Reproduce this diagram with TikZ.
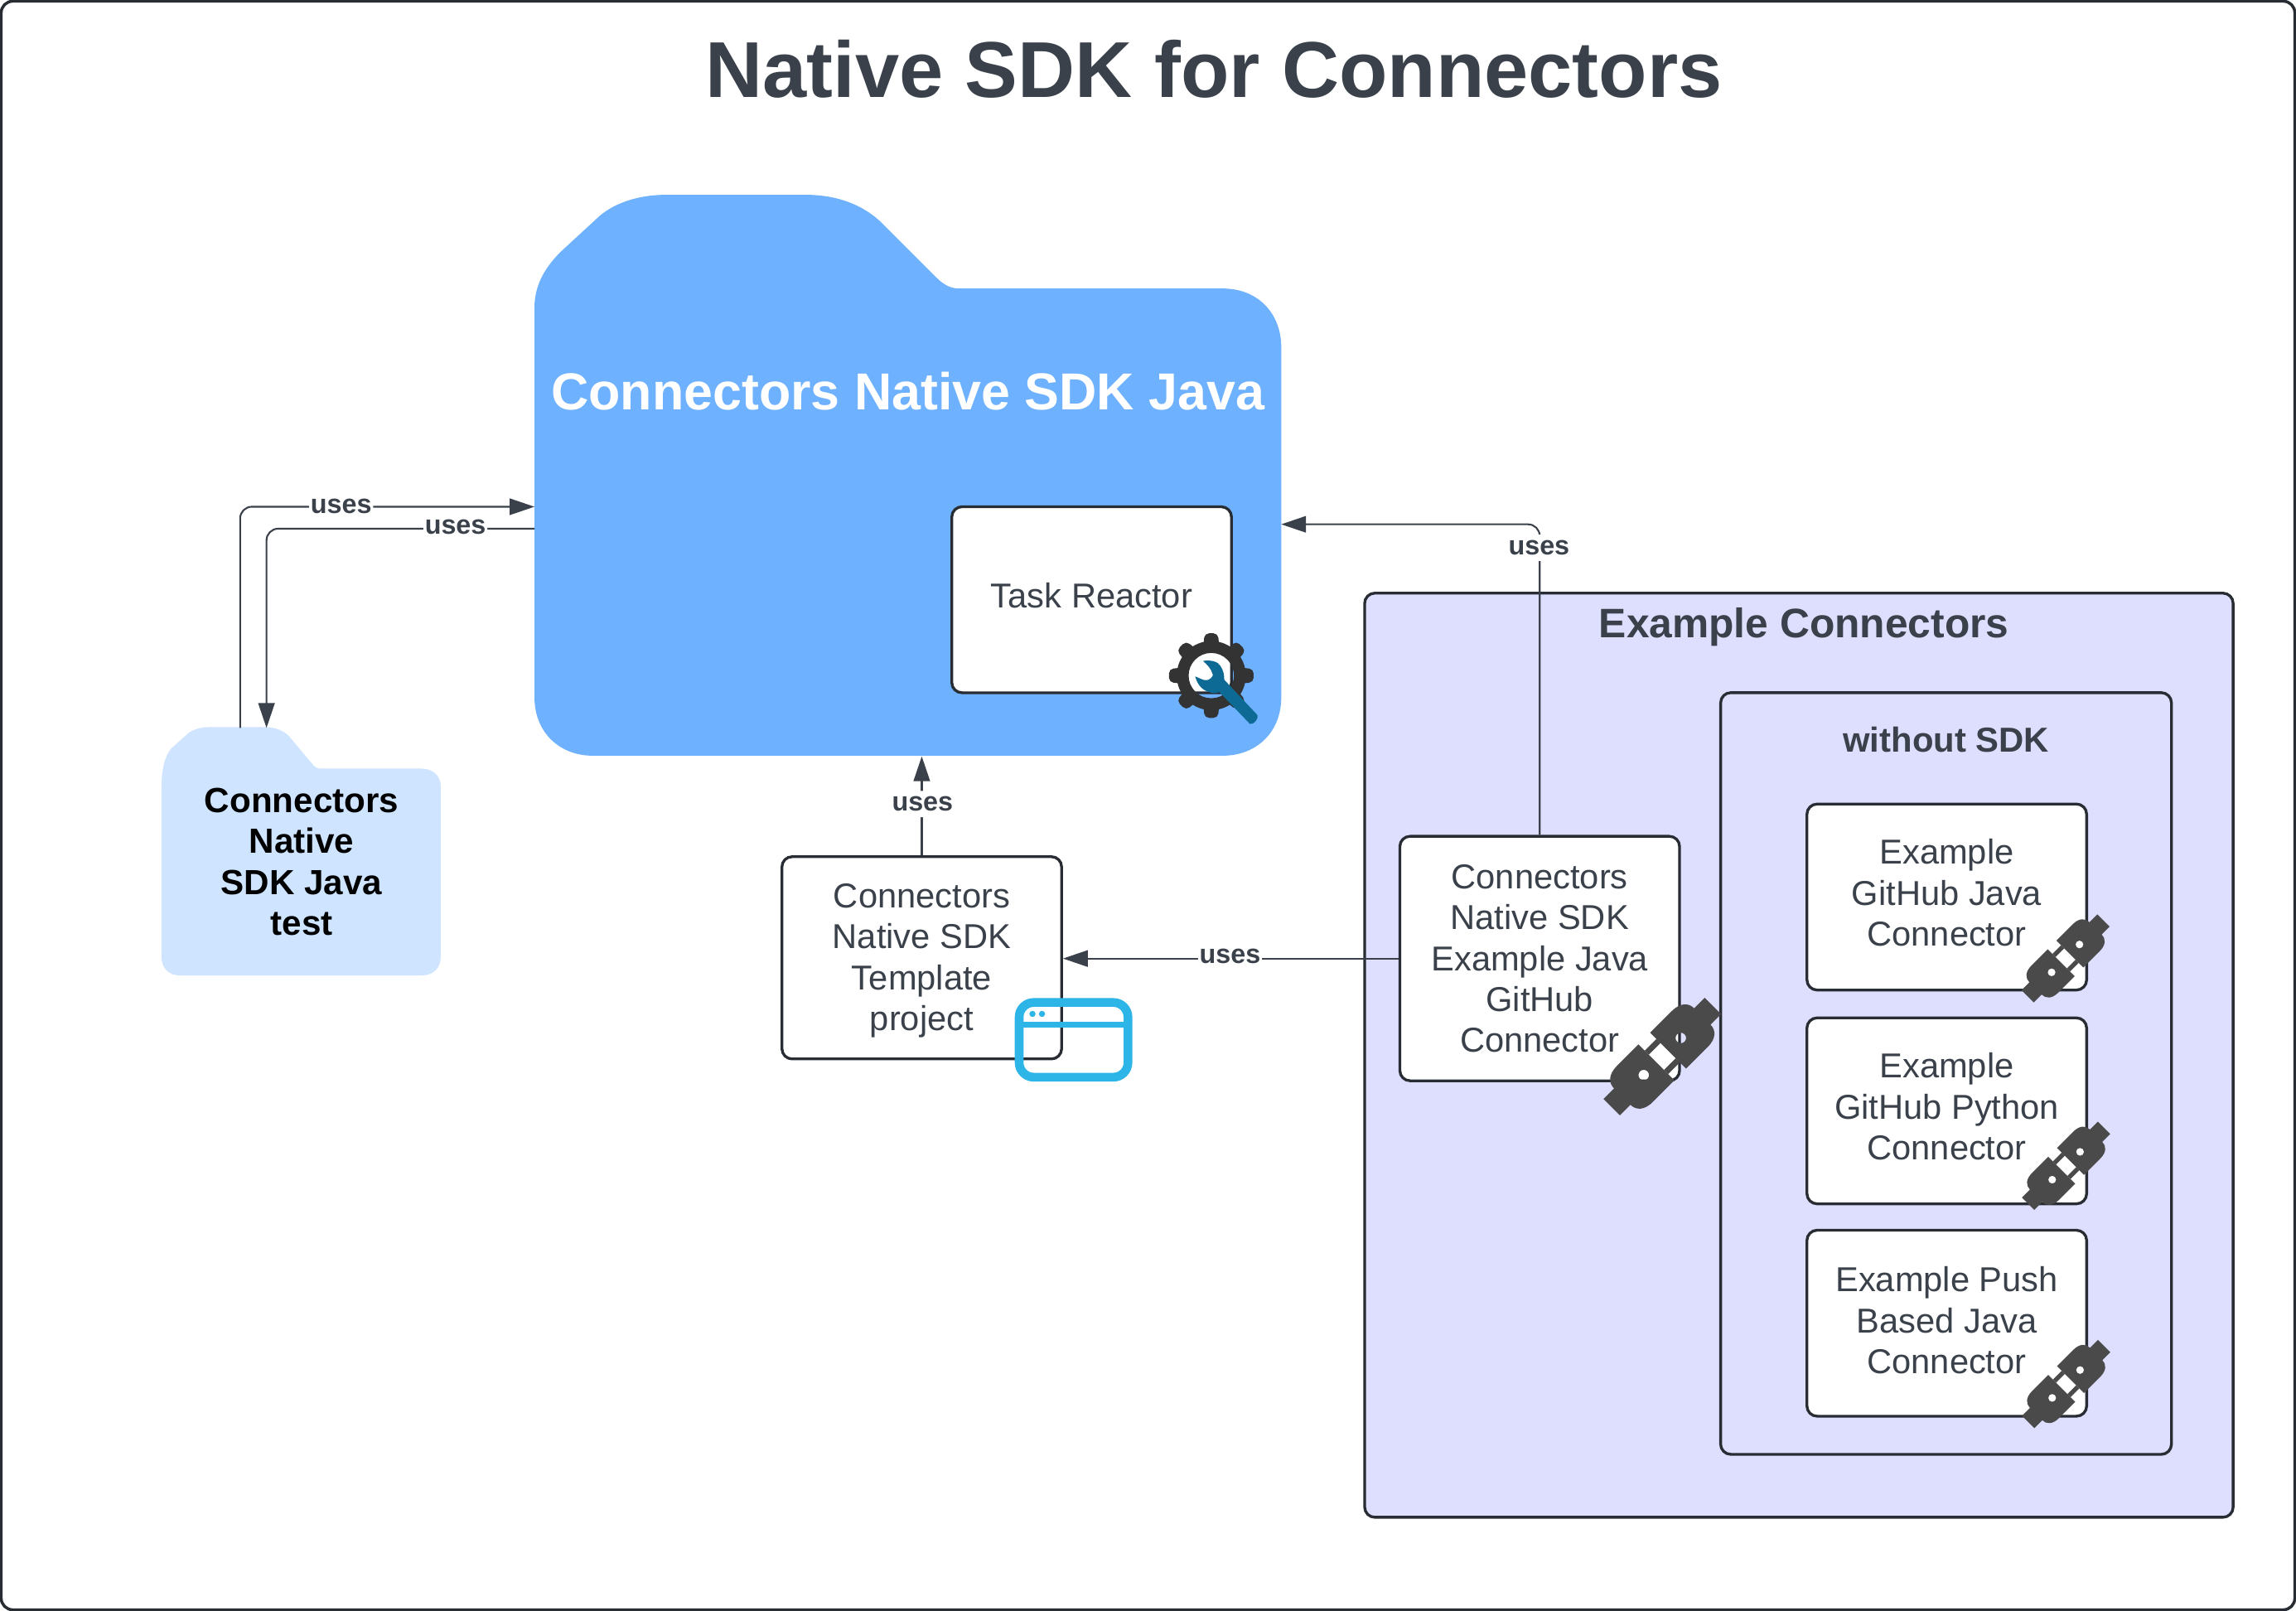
\documentclass[tikz,border=0pt]{standalone}
\usepackage{fontspec}
\setmainfont{Liberation Sans}
\usetikzlibrary{positioning}
\usetikzlibrary{calc}
\usetikzlibrary{arrows.meta}
\definecolor{ink}{HTML}{3A414A}
\definecolor{edge}{HTML}{282C33}
\definecolor{sdkblue}{HTML}{6DB1FF}
\definecolor{testblue}{HTML}{CFE4FF}
\definecolor{lilac}{HTML}{DEDEFF}
\definecolor{plugdark}{HTML}{4A4A4A}
\definecolor{geardark}{HTML}{333333}
\definecolor{wrench}{HTML}{0C6A94}
\definecolor{windowblue}{HTML}{2DB5E8}
\tikzset{
    box/.style={draw=edge, line width=0.95pt, fill=white, rounded corners=3.5pt, inner sep=0pt, minimum width=3.375cm},
    boxtext/.style={text=ink, align=center, inner sep=0pt, font=\fontsize{11.85}{14}\selectfont},
    panel/.style={draw=edge, line width=0.95pt, fill=lilac, rounded corners=3.5pt, inner sep=0pt},
    link/.style={draw=ink, line width=0.6pt, rounded corners=4pt, -{Triangle[length=8.5pt,width=5.6pt]}},
    uses/.style={fill=white, text=ink, inner xsep=0.5pt, inner ysep=2pt, font=\fontsize{9.2}{11}\selectfont\bfseries},
    heading/.style={text=ink, inner sep=0pt, font=\fontsize{14.15}{17}\selectfont\bfseries},
    plugicon/.pic={
        \fill[plugdark, even odd rule] (-30,-92) -- (-140,-92) .. controls (-185,-92) and (-205,-70) .. (-205,-42) -- (-259,-42) -- (-259,42) -- (-205,42) .. controls (-205,70) and (-185,92) .. (-140,92) -- (-30,92) -- cycle (-95,0) circle (19);
        \fill[plugdark, even odd rule] (30,-92) -- (140,-92) .. controls (185,-92) and (205,-70) .. (205,-42) -- (259,-42) -- (259,42) -- (205,42) .. controls (205,70) and (185,92) .. (140,92) -- (30,92) -- cycle (95,0) circle (19);
        \fill[plugdark] (-30,-60) rectangle (30,-39);
        \fill[plugdark] (-30,39) rectangle (30,60);
    }
}

\begin{document}
\begin{tikzpicture}[x=0.01767cm, y=-0.01767cm]
    \useasboundingbox (0,0) rectangle (1568,1100);
    \draw[edge, line width=1pt, fill=white, rounded corners=4pt] (0.8,0.8) rectangle (1567.2,1099.2);

    \node[text=ink, inner sep=0pt, font=\fontsize{27.2}{32}\selectfont\bfseries] (title) at (829,47) {Native SDK for Connectors};

    % folders
    \fill[sdkblue] (365,210) .. controls (365,195) and (372,182) .. (385,170) -- (410,147) .. controls (421,138) and (437,133) .. (455,133) -- (550,133) .. controls (572,133) and (590,140) .. (603,153) -- (640,190) .. controls (645,195) and (650,197) .. (655,197) -- (835,197) .. controls (860,197) and (875,215) .. (875,237) -- (875,476) .. controls (875,500) and (858,516) .. (835,516) -- (405,516) .. controls (382,516) and (365,500) .. (365,476) -- cycle;
    \node[minimum width=9.01cm, minimum height=6.77cm, inner sep=0pt] (sdk) at (620,324.5) {};
    \node[text=white, inner sep=0pt, font=\fontsize{17.85}{21}\selectfont\bfseries] (sdkname) at (620,267) {Connectors Native SDK Java};

    \fill[testblue] (110.3,537.7) .. controls (110.3,527) and (112,517) .. (117,511) -- (128.3,500.9) .. controls (132,498) and (137,496.5) .. (142.4,496.5) -- (181.1,496.5) .. controls (188,496.5) and (195,499) .. (199,504.6) -- (213.2,521.6) .. controls (215,524) and (217,524.8) .. (218.8,524.8) -- (287.7,524.8) .. controls (296,524.8) and (301,530) .. (301,537) -- (301,653) .. controls (301,661) and (296,666) .. (288,666) -- (123,666) .. controls (115,666) and (110.3,661) .. (110.3,653) -- cycle;
    \node[align=center, inner sep=0pt, text=black, font=\fontsize{12}{14}\selectfont\bfseries] (test) at (206,588.5) {Connectors\\Native\\SDK Java\\test};

    % example connectors
    \node[panel, minimum width=10.48cm, minimum height=11.15cm] (examples) at (1228.5,720.5) {};
    \node[heading] (examplesname) at (1232,428) {Example Connectors};
    \node[panel, minimum width=5.44cm, minimum height=9.19cm] (nosdk) at (1329,733) {};
    \node[heading, font=\fontsize{11.9}{14}\selectfont\bfseries] (nosdkname) at (1329,505) {without SDK};

    \node[box, minimum height=2.244cm] (javaex) at (1329.5,612.5) {};
    \node[boxtext] (javaextext) at ($(javaex)+(0,-3)$) {Example\\GitHub Java\\Connector};
    \node[box, minimum height=2.244cm] (pyex) at (1329.5,758.5) {};
    \node[boxtext] (pyextext) at ($(pyex)+(0,-3)$) {Example\\GitHub Python\\Connector};
    \node[box, minimum height=2.244cm] (pushex) at (1329.5,903.5) {};
    \node[boxtext] (pushextext) at ($(pushex)+(0,-2)$) {Example Push\\Based Java\\Connector};

    \node[box, minimum height=2.95cm] (github) at (1051.5,654.5) {};
    \node[boxtext] (githubtext) at (github) {Connectors\\Native SDK\\Example Java\\GitHub\\Connector};
    \node[box, minimum height=2.44cm] (template) at (629.5,654) {};
    \node[boxtext] (templatetext) at ($(template)+(0,2)$) {Connectors\\Native SDK\\Template\\project};
    \node[box, minimum height=2.244cm] (reactor) at (745.5,409.5) {};
    \node[boxtext] (reactortext) at ($(reactor)+(0,-3)$) {Task Reactor};

    % links
    \coordinate (testout) at (164,497);
    \coordinate (testin) at (182,497);
    \coordinate (sdkin) at (365,346);
    \coordinate (sdkout) at (365,361);
    \coordinate (sdkright) at (875,358);

    \draw[link] (testout) |- (sdkin) node[uses] (usesa) at (233,345.5) {uses};
    \draw[link] (sdkout) -| (testin) node[uses] (usesb) at (311,360) {uses};
    \draw[link] (github.north) |- (sdkright) node[uses] (usesc) at (1051,374) {uses};
    \draw[link] (template.north) -- (template.north |- sdk.south) node[uses] (usesd) at (630,549) {uses};
    \draw[link] (github.west) -- (github.west -| template.east) node[uses] (usese) at (840,653) {uses};

    % icons
    \pic[rotate=45, scale=0.18865] at (1135.2,721.4) {plugicon};
    \pic[rotate=45, scale=0.1415] at (1410.6,654.4) {plugicon};
    \pic[rotate=45, scale=0.1415] at (1411,796) {plugicon};
    \pic[rotate=45, scale=0.1415] at (1411,945) {plugicon};

    \draw[windowblue, line width=3pt, rounded corners=5pt] (696,684.5) rectangle (770.3,735.5);
    \draw[windowblue, line width=2pt] (696,699.8) -- (770.3,699.8);
    \fill[windowblue] (705.1,692.3) circle (2.1);
    \fill[windowblue] (711.6,692.3) circle (2.1);

    \begin{scope}[shift={(827.2,461.3)}, scale=0.18865]
        \fill[geardark, even odd rule] (0,0) circle (125) (0,0) circle (82);
        \foreach \ang in {0,45,...,315}
            \fill[geardark, rotate=\ang, rounded corners=1.5pt] (105,-29) -- (153,-24) -- (153,24) -- (105,29) -- cycle;
        \fill[wrench] (-30,-53) .. controls (0,-58) and (25,-50) .. (33,-35) .. controls (45,-18) and (47,0) .. (47,15) -- (167,143) .. controls (172,155) and (155,178) .. (140,175) -- (30,60) .. controls (15,65) and (0,65) .. (-5,60) .. controls (-30,55) and (-50,35) .. (-58,3) -- (-30,15) .. controls (-20,18) and (-10,15) .. (-10,15) .. controls (0,10) and (8,0) .. (5,-5) .. controls (0,-25) and (-15,-40) .. (-30,-53) -- cycle;
    \end{scope}
\end{tikzpicture}
\end{document}
